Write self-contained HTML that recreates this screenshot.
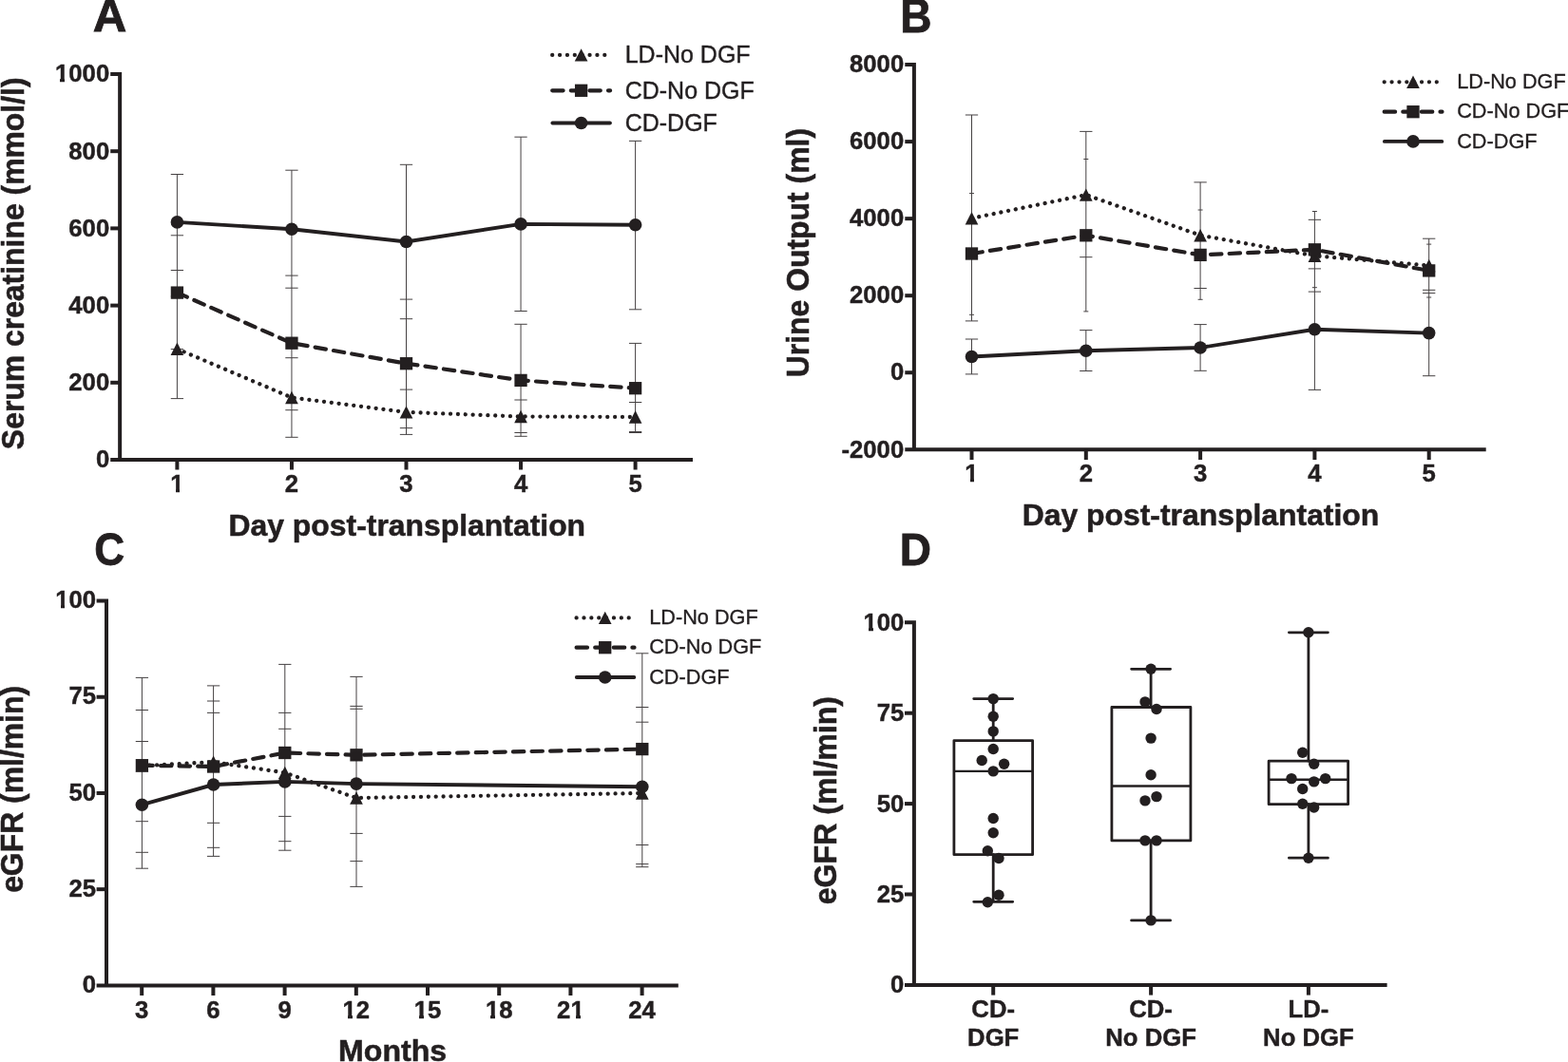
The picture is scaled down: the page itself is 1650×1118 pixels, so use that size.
<!DOCTYPE html>
<html lang="en">
<head>
<meta charset="utf-8">
<title>Figure: post-transplantation renal function</title>
<style>
html,body{margin:0;padding:0;background:#fff;}
body{width:1650px;height:1118px;overflow:hidden;}
svg{display:block;}
svg text{font-family:"Liberation Sans",sans-serif;fill:#231f20;}
</style>
</head>
<body>
<svg width="1650" height="1118" viewBox="0 0 1650 1118">
<rect x="0" y="0" width="1650" height="1118" fill="#ffffff"/>
<g id="panel-a">
<path d="M116.20 78.00 H126.15 V484.00" fill="none" stroke="#231f20" stroke-width="4.0" stroke-linejoin="miter"/>
<line x1="116.20" y1="484.00" x2="729.00" y2="484.00" stroke="#231f20" stroke-width="4.0" />
<line x1="116.20" y1="159.20" x2="126.15" y2="159.20" stroke="#231f20" stroke-width="4.0" />
<line x1="116.20" y1="240.40" x2="126.15" y2="240.40" stroke="#231f20" stroke-width="4.0" />
<line x1="116.20" y1="321.60" x2="126.15" y2="321.60" stroke="#231f20" stroke-width="4.0" />
<line x1="116.20" y1="402.80" x2="126.15" y2="402.80" stroke="#231f20" stroke-width="4.0" />
<line x1="186.40" y1="484.00" x2="186.40" y2="494.50" stroke="#231f20" stroke-width="4.0" />
<line x1="306.95" y1="484.00" x2="306.95" y2="494.50" stroke="#231f20" stroke-width="4.0" />
<line x1="427.50" y1="484.00" x2="427.50" y2="494.50" stroke="#231f20" stroke-width="4.0" />
<line x1="548.05" y1="484.00" x2="548.05" y2="494.50" stroke="#231f20" stroke-width="4.0" />
<line x1="668.60" y1="484.00" x2="668.60" y2="494.50" stroke="#231f20" stroke-width="4.0" />
<text x="115.20" y="86.40" font-size="25.7" font-weight="bold" text-anchor="end" stroke="#231f20" stroke-width="0.44" >1000</text>
<text x="115.20" y="167.60" font-size="25.7" font-weight="bold" text-anchor="end" stroke="#231f20" stroke-width="0.44" >800</text>
<text x="115.20" y="248.80" font-size="25.7" font-weight="bold" text-anchor="end" stroke="#231f20" stroke-width="0.44" >600</text>
<text x="115.20" y="330.00" font-size="25.7" font-weight="bold" text-anchor="end" stroke="#231f20" stroke-width="0.44" >400</text>
<text x="115.20" y="411.20" font-size="25.7" font-weight="bold" text-anchor="end" stroke="#231f20" stroke-width="0.44" >200</text>
<text x="115.20" y="492.40" font-size="25.7" font-weight="bold" text-anchor="end" stroke="#231f20" stroke-width="0.44" >0</text>
<text x="186.40" y="517.80" font-size="25.7" font-weight="bold" text-anchor="middle" stroke="#231f20" stroke-width="0.44" >1</text>
<text x="306.95" y="517.80" font-size="25.7" font-weight="bold" text-anchor="middle" stroke="#231f20" stroke-width="0.44" >2</text>
<text x="427.50" y="517.80" font-size="25.7" font-weight="bold" text-anchor="middle" stroke="#231f20" stroke-width="0.44" >3</text>
<text x="548.05" y="517.80" font-size="25.7" font-weight="bold" text-anchor="middle" stroke="#231f20" stroke-width="0.44" >4</text>
<text x="668.60" y="517.80" font-size="25.7" font-weight="bold" text-anchor="middle" stroke="#231f20" stroke-width="0.44" >5</text>
<text x="428.30" y="563.60" font-size="31.9" font-weight="bold" text-anchor="middle" stroke="#231f20" stroke-width="0.54" >Day post-transplantation</text>
<text x="0.00" y="0.00" font-size="31.9" font-weight="bold" text-anchor="middle" transform="translate(24.50 277.30) rotate(-90) scale(1 1.056)" stroke="#231f20" stroke-width="0.54" >Serum creatinine (mmol/l)</text>
<text transform="translate(115.50 33.20) scale(1.07 1.05)" x="0" y="0" font-size="46.0" font-weight="bold" text-anchor="middle" stroke="#231f20" stroke-width="0.78">A</text>
<path d="M186.40 183.50 V419.60 M179.75 183.50 h13.3 M179.75 284.50 h13.3 M179.75 247.80 h13.3 M179.75 367.60 h13.3 M179.75 312.00 h13.3 M179.75 419.60 h13.3" fill="none" stroke="#454142" stroke-width="1"/>
<path d="M306.95 179.20 V460.30 M300.30 179.20 h13.3 M300.30 303.20 h13.3 M300.30 290.10 h13.3 M300.30 431.70 h13.3 M300.30 376.70 h13.3 M300.30 460.30 h13.3" fill="none" stroke="#454142" stroke-width="1"/>
<path d="M427.50 173.30 V457.40 M420.85 173.30 h13.3 M420.85 335.70 h13.3 M420.85 315.10 h13.3 M420.85 450.60 h13.3 M420.85 410.10 h13.3 M420.85 457.40 h13.3" fill="none" stroke="#454142" stroke-width="1"/>
<path d="M548.05 144.20 V327.50 M548.05 341.30 V459.30 M541.40 144.20 h13.3 M541.40 327.50 h13.3 M541.40 341.30 h13.3 M541.40 459.30 h13.3 M541.40 421.00 h13.3 M541.40 455.50 h13.3" fill="none" stroke="#454142" stroke-width="1"/>
<path d="M668.60 148.40 V325.80 M668.60 361.40 V455.50 M661.95 148.40 h13.3 M661.95 325.80 h13.3 M661.95 361.40 h13.3 M661.95 455.50 h13.3 M661.95 423.50 h13.3 M661.95 454.50 h13.3" fill="none" stroke="#454142" stroke-width="1"/>
<path d="M186.40 233.90 L306.95 241.20 L427.50 254.50 L548.05 235.90 L668.60 236.80" fill="none" stroke="#231f20" stroke-width="3.9" stroke-linejoin="round" />
<path d="M186.40 308.10 L306.95 361.20 L427.50 382.70 L548.05 400.40 L668.60 408.70" fill="none" stroke="#231f20" stroke-width="4.2" stroke-linejoin="round" stroke-dasharray="11.4 8.2" stroke-linecap="round"/>
<path d="M186.40 367.30 L306.95 418.50 L427.50 433.90 L548.05 438.50 L668.60 439.00" fill="none" stroke="#231f20" stroke-width="4.3" stroke-linejoin="round" stroke-dasharray="0.01 7.86" stroke-linecap="round"/>
<circle cx="186.40" cy="233.90" r="6.8" fill="#231f20"/>
<circle cx="306.95" cy="241.20" r="6.8" fill="#231f20"/>
<circle cx="427.50" cy="254.50" r="6.8" fill="#231f20"/>
<circle cx="548.05" cy="235.90" r="6.8" fill="#231f20"/>
<circle cx="668.60" cy="236.80" r="6.8" fill="#231f20"/>
<rect x="179.75" y="301.45" width="13.3" height="13.3" fill="#231f20"/>
<rect x="300.30" y="354.55" width="13.3" height="13.3" fill="#231f20"/>
<rect x="420.85" y="376.05" width="13.3" height="13.3" fill="#231f20"/>
<rect x="541.40" y="393.75" width="13.3" height="13.3" fill="#231f20"/>
<rect x="661.95" y="402.05" width="13.3" height="13.3" fill="#231f20"/>
<path d="M186.40 360.60 L193.25 374.00 H179.55 Z" fill="#231f20"/>
<path d="M306.95 411.80 L313.80 425.20 H300.10 Z" fill="#231f20"/>
<path d="M427.50 427.20 L434.35 440.60 H420.65 Z" fill="#231f20"/>
<path d="M548.05 431.80 L554.90 445.20 H541.20 Z" fill="#231f20"/>
<path d="M668.60 432.30 L675.45 445.70 H661.75 Z" fill="#231f20"/>
<path d="M581.20 57.90 L643.80 57.90" fill="none" stroke="#231f20" stroke-width="4.3" stroke-linejoin="round" stroke-dasharray="0.01 7.86" stroke-linecap="round"/>
<path d="M611.60 51.20 L618.45 64.60 H604.75 Z" fill="#231f20"/>
<text x="657.70" y="66.25" font-size="25.0" font-weight="normal" text-anchor="start" stroke="#231f20" stroke-width="0.40" >LD-No DGF</text>
<path d="M581.20 95.30 L642.10 95.30" fill="none" stroke="#231f20" stroke-width="4.2" stroke-linejoin="round" stroke-dasharray="11.4 8.2" stroke-linecap="round"/>
<rect x="604.95" y="88.65" width="13.3" height="13.3" fill="#231f20"/>
<text x="657.70" y="103.65" font-size="25.0" font-weight="normal" text-anchor="start" stroke="#231f20" stroke-width="0.40" >CD-No DGF</text>
<path d="M581.40 129.50 L641.90 129.50" fill="none" stroke="#231f20" stroke-width="3.9" stroke-linejoin="round" stroke-linecap="round"/>
<circle cx="611.60" cy="129.50" r="6.8" fill="#231f20"/>
<text x="657.70" y="137.85" font-size="25.0" font-weight="normal" text-anchor="start" stroke="#231f20" stroke-width="0.40" >CD-DGF</text>
</g>
<g id="panel-b">
<path d="M952.30 68.05 H961.90 V473.30" fill="none" stroke="#231f20" stroke-width="4.0" stroke-linejoin="miter"/>
<line x1="952.30" y1="473.30" x2="1563.70" y2="473.30" stroke="#231f20" stroke-width="4.0" />
<line x1="952.30" y1="149.10" x2="961.90" y2="149.10" stroke="#231f20" stroke-width="4.0" />
<line x1="952.30" y1="230.15" x2="961.90" y2="230.15" stroke="#231f20" stroke-width="4.0" />
<line x1="952.30" y1="311.20" x2="961.90" y2="311.20" stroke="#231f20" stroke-width="4.0" />
<line x1="952.30" y1="392.25" x2="961.90" y2="392.25" stroke="#231f20" stroke-width="4.0" />
<line x1="1022.50" y1="473.30" x2="1022.50" y2="484.00" stroke="#231f20" stroke-width="4.0" />
<line x1="1142.80" y1="473.30" x2="1142.80" y2="484.00" stroke="#231f20" stroke-width="4.0" />
<line x1="1263.10" y1="473.30" x2="1263.10" y2="484.00" stroke="#231f20" stroke-width="4.0" />
<line x1="1383.40" y1="473.30" x2="1383.40" y2="484.00" stroke="#231f20" stroke-width="4.0" />
<line x1="1503.70" y1="473.30" x2="1503.70" y2="484.00" stroke="#231f20" stroke-width="4.0" />
<text x="951.20" y="76.25" font-size="25.7" font-weight="bold" text-anchor="end" stroke="#231f20" stroke-width="0.44" >8000</text>
<text x="951.20" y="157.30" font-size="25.7" font-weight="bold" text-anchor="end" stroke="#231f20" stroke-width="0.44" >6000</text>
<text x="951.20" y="238.35" font-size="25.7" font-weight="bold" text-anchor="end" stroke="#231f20" stroke-width="0.44" >4000</text>
<text x="951.20" y="319.40" font-size="25.7" font-weight="bold" text-anchor="end" stroke="#231f20" stroke-width="0.44" >2000</text>
<text x="951.20" y="400.45" font-size="25.7" font-weight="bold" text-anchor="end" stroke="#231f20" stroke-width="0.44" >0</text>
<text x="951.20" y="481.50" font-size="25.7" font-weight="bold" text-anchor="end" stroke="#231f20" stroke-width="0.44" >-2000</text>
<text x="1022.50" y="507.30" font-size="25.7" font-weight="bold" text-anchor="middle" stroke="#231f20" stroke-width="0.44" >1</text>
<text x="1142.80" y="507.30" font-size="25.7" font-weight="bold" text-anchor="middle" stroke="#231f20" stroke-width="0.44" >2</text>
<text x="1263.10" y="507.30" font-size="25.7" font-weight="bold" text-anchor="middle" stroke="#231f20" stroke-width="0.44" >3</text>
<text x="1383.40" y="507.30" font-size="25.7" font-weight="bold" text-anchor="middle" stroke="#231f20" stroke-width="0.44" >4</text>
<text x="1503.70" y="507.30" font-size="25.7" font-weight="bold" text-anchor="middle" stroke="#231f20" stroke-width="0.44" >5</text>
<text x="1263.50" y="552.60" font-size="31.9" font-weight="bold" text-anchor="middle" stroke="#231f20" stroke-width="0.54" >Day post-transplantation</text>
<text x="0.00" y="0.00" font-size="31.9" font-weight="bold" text-anchor="middle" transform="translate(851.00 266.10) rotate(-90) scale(1 1.056)" stroke="#231f20" stroke-width="0.54" >Urine Output (ml)</text>
<text transform="translate(963.90 33.90) scale(1.0 1.08)" x="0" y="0" font-size="46.0" font-weight="bold" text-anchor="middle" stroke="#231f20" stroke-width="0.78">B</text>
<path d="M1022.50 121.00 V337.90 M1022.50 357.00 V393.90 M1015.85 121.00 h13.3 M1015.85 337.90 h13.3 M1020.00 203.60 h5.0 M1020.00 331.30 h5.0 M1015.85 357.00 h13.3 M1015.85 393.90 h13.3" fill="none" stroke="#454142" stroke-width="1"/>
<path d="M1142.80 138.40 V327.90 M1142.80 347.60 V390.50 M1136.15 138.40 h13.3 M1136.15 270.70 h13.3 M1140.30 167.50 h5.0 M1140.30 327.90 h5.0 M1136.15 347.60 h13.3 M1136.15 390.50 h13.3" fill="none" stroke="#454142" stroke-width="1"/>
<path d="M1263.10 191.90 V315.30 M1263.10 341.60 V390.30 M1256.45 191.90 h13.3 M1256.45 303.50 h13.3 M1260.60 221.00 h5.0 M1260.60 315.30 h5.0 M1256.45 341.60 h13.3 M1256.45 390.30 h13.3" fill="none" stroke="#454142" stroke-width="1"/>
<path d="M1383.40 222.50 V410.40 M1376.75 231.30 h13.3 M1376.75 307.10 h13.3 M1380.90 222.50 h5.0 M1380.90 302.70 h5.0 M1376.75 282.90 h13.3 M1376.75 410.40 h13.3" fill="none" stroke="#454142" stroke-width="1"/>
<path d="M1503.70 251.20 V395.70 M1497.05 251.20 h13.3 M1497.05 308.60 h13.3 M1501.20 257.10 h5.0 M1501.20 313.00 h5.0 M1497.05 305.30 h13.3 M1497.05 395.70 h13.3" fill="none" stroke="#454142" stroke-width="1"/>
<path d="M1022.50 229.80 L1142.80 205.10 L1263.10 247.70 L1383.40 269.30 L1503.70 279.50" fill="none" stroke="#231f20" stroke-width="4.3" stroke-linejoin="round" stroke-dasharray="0.01 7.86" stroke-linecap="round"/>
<path d="M1022.50 267.00 L1142.80 247.80 L1263.10 268.40 L1383.40 262.80 L1503.70 284.90" fill="none" stroke="#231f20" stroke-width="4.2" stroke-linejoin="round" stroke-dasharray="11.4 8.2" stroke-linecap="round"/>
<path d="M1022.50 375.50 L1142.80 369.20 L1263.10 366.00 L1383.40 346.80 L1503.70 350.60" fill="none" stroke="#231f20" stroke-width="3.9" stroke-linejoin="round" />
<path d="M1022.50 223.10 L1029.35 236.50 H1015.65 Z" fill="#231f20"/>
<path d="M1142.80 198.40 L1149.65 211.80 H1135.95 Z" fill="#231f20"/>
<path d="M1263.10 241.00 L1269.95 254.40 H1256.25 Z" fill="#231f20"/>
<path d="M1383.40 262.60 L1390.25 276.00 H1376.55 Z" fill="#231f20"/>
<path d="M1503.70 272.80 L1510.55 286.20 H1496.85 Z" fill="#231f20"/>
<rect x="1015.85" y="260.35" width="13.3" height="13.3" fill="#231f20"/>
<rect x="1136.15" y="241.15" width="13.3" height="13.3" fill="#231f20"/>
<rect x="1256.45" y="261.75" width="13.3" height="13.3" fill="#231f20"/>
<rect x="1376.75" y="256.15" width="13.3" height="13.3" fill="#231f20"/>
<rect x="1497.05" y="278.25" width="13.3" height="13.3" fill="#231f20"/>
<circle cx="1022.50" cy="375.50" r="6.8" fill="#231f20"/>
<circle cx="1142.80" cy="369.20" r="6.8" fill="#231f20"/>
<circle cx="1263.10" cy="366.00" r="6.8" fill="#231f20"/>
<circle cx="1383.40" cy="346.80" r="6.8" fill="#231f20"/>
<circle cx="1503.70" cy="350.60" r="6.8" fill="#231f20"/>
<path d="M1456.70 86.30 L1519.20 86.30" fill="none" stroke="#231f20" stroke-width="4.3" stroke-linejoin="round" stroke-dasharray="0.01 7.86" stroke-linecap="round"/>
<path d="M1487.00 79.60 L1493.85 93.00 H1480.15 Z" fill="#231f20"/>
<text x="1533.20" y="92.98" font-size="21.7" font-weight="normal" text-anchor="start" stroke="#231f20" stroke-width="0.35" >LD-No DGF</text>
<path d="M1456.70 117.70 L1517.50 117.70" fill="none" stroke="#231f20" stroke-width="4.2" stroke-linejoin="round" stroke-dasharray="11.4 8.2" stroke-linecap="round"/>
<rect x="1480.35" y="111.05" width="13.3" height="13.3" fill="#231f20"/>
<text x="1533.20" y="124.38" font-size="21.7" font-weight="normal" text-anchor="start" stroke="#231f20" stroke-width="0.35" >CD-No DGF</text>
<path d="M1456.90 148.90 L1517.30 148.90" fill="none" stroke="#231f20" stroke-width="3.9" stroke-linejoin="round" stroke-linecap="round"/>
<circle cx="1487.00" cy="148.90" r="6.8" fill="#231f20"/>
<text x="1533.20" y="155.58" font-size="21.7" font-weight="normal" text-anchor="start" stroke="#231f20" stroke-width="0.35" >CD-DGF</text>
</g>
<g id="panel-c">
<path d="M101.60 632.52 H112.00 V1037.40" fill="none" stroke="#231f20" stroke-width="4.0" stroke-linejoin="miter"/>
<line x1="101.60" y1="1037.40" x2="713.80" y2="1037.40" stroke="#231f20" stroke-width="4.0" />
<line x1="101.60" y1="733.74" x2="112.00" y2="733.74" stroke="#231f20" stroke-width="4.0" />
<line x1="101.60" y1="834.96" x2="112.00" y2="834.96" stroke="#231f20" stroke-width="4.0" />
<line x1="101.60" y1="936.18" x2="112.00" y2="936.18" stroke="#231f20" stroke-width="4.0" />
<line x1="149.20" y1="1037.40" x2="149.20" y2="1048.00" stroke="#231f20" stroke-width="4.0" />
<line x1="224.40" y1="1037.40" x2="224.40" y2="1048.00" stroke="#231f20" stroke-width="4.0" />
<line x1="299.60" y1="1037.40" x2="299.60" y2="1048.00" stroke="#231f20" stroke-width="4.0" />
<line x1="374.80" y1="1037.40" x2="374.80" y2="1048.00" stroke="#231f20" stroke-width="4.0" />
<line x1="450.00" y1="1037.40" x2="450.00" y2="1048.00" stroke="#231f20" stroke-width="4.0" />
<line x1="525.20" y1="1037.40" x2="525.20" y2="1048.00" stroke="#231f20" stroke-width="4.0" />
<line x1="600.40" y1="1037.40" x2="600.40" y2="1048.00" stroke="#231f20" stroke-width="4.0" />
<line x1="675.60" y1="1037.40" x2="675.60" y2="1048.00" stroke="#231f20" stroke-width="4.0" />
<text x="101.00" y="640.22" font-size="25.7" font-weight="bold" text-anchor="end" stroke="#231f20" stroke-width="0.44" >100</text>
<text x="101.00" y="741.44" font-size="25.7" font-weight="bold" text-anchor="end" stroke="#231f20" stroke-width="0.44" >75</text>
<text x="101.00" y="842.66" font-size="25.7" font-weight="bold" text-anchor="end" stroke="#231f20" stroke-width="0.44" >50</text>
<text x="101.00" y="943.88" font-size="25.7" font-weight="bold" text-anchor="end" stroke="#231f20" stroke-width="0.44" >25</text>
<text x="101.00" y="1045.10" font-size="25.7" font-weight="bold" text-anchor="end" stroke="#231f20" stroke-width="0.44" >0</text>
<text x="149.20" y="1071.60" font-size="25.7" font-weight="bold" text-anchor="middle" stroke="#231f20" stroke-width="0.44" >3</text>
<text x="224.40" y="1071.60" font-size="25.7" font-weight="bold" text-anchor="middle" stroke="#231f20" stroke-width="0.44" >6</text>
<text x="299.60" y="1071.60" font-size="25.7" font-weight="bold" text-anchor="middle" stroke="#231f20" stroke-width="0.44" >9</text>
<text x="374.80" y="1071.60" font-size="25.7" font-weight="bold" text-anchor="middle" stroke="#231f20" stroke-width="0.44" >12</text>
<text x="450.00" y="1071.60" font-size="25.7" font-weight="bold" text-anchor="middle" stroke="#231f20" stroke-width="0.44" >15</text>
<text x="525.20" y="1071.60" font-size="25.7" font-weight="bold" text-anchor="middle" stroke="#231f20" stroke-width="0.44" >18</text>
<text x="600.40" y="1071.60" font-size="25.7" font-weight="bold" text-anchor="middle" stroke="#231f20" stroke-width="0.44" >21</text>
<text x="675.60" y="1071.60" font-size="25.7" font-weight="bold" text-anchor="middle" stroke="#231f20" stroke-width="0.44" >24</text>
<text x="413.10" y="1117.00" font-size="32.1" font-weight="bold" text-anchor="middle" stroke="#231f20" stroke-width="0.55" >Months</text>
<text x="0.00" y="0.00" font-size="31.9" font-weight="bold" text-anchor="middle" transform="translate(24.40 830.90) rotate(-90) scale(1 1.056)" stroke="#231f20" stroke-width="0.54" >eGFR (ml/min)</text>
<text transform="translate(115.30 595.00) scale(0.96 1.03)" x="0" y="0" font-size="46.0" font-weight="bold" text-anchor="middle" stroke="#231f20" stroke-width="0.78">C</text>
<path d="M149.40 713.40 V914.20 M142.75 747.50 h13.3 M142.75 864.70 h13.3 M142.75 713.40 h13.3 M142.75 897.30 h13.3 M142.75 780.50 h13.3 M142.75 914.20 h13.3" fill="none" stroke="#454142" stroke-width="1"/>
<path d="M224.60 721.90 V901.40 M217.95 738.00 h13.3 M217.95 866.30 h13.3 M217.95 721.90 h13.3 M217.95 892.30 h13.3 M217.95 750.40 h13.3 M217.95 901.40 h13.3" fill="none" stroke="#454142" stroke-width="1"/>
<path d="M299.80 699.40 V895.20 M293.15 767.30 h13.3 M293.15 859.40 h13.3 M293.15 699.40 h13.3 M293.15 885.70 h13.3 M293.15 750.40 h13.3 M293.15 895.20 h13.3" fill="none" stroke="#454142" stroke-width="1"/>
<path d="M375.00 712.40 V933.40 M368.35 746.30 h13.3 M368.35 933.40 h13.3 M368.35 712.40 h13.3 M368.35 877.40 h13.3 M368.35 743.40 h13.3 M368.35 906.60 h13.3" fill="none" stroke="#454142" stroke-width="1"/>
<path d="M675.80 687.80 V912.70 M669.15 760.20 h13.3 M669.15 909.60 h13.3 M669.15 687.80 h13.3 M669.15 889.50 h13.3 M669.15 744.50 h13.3 M669.15 912.70 h13.3" fill="none" stroke="#454142" stroke-width="1"/>
<path d="M149.40 806.10 L224.60 802.20 L299.80 813.40 L375.00 840.00 L675.80 835.00" fill="none" stroke="#231f20" stroke-width="4.3" stroke-linejoin="round" stroke-dasharray="0.01 7.86" stroke-linecap="round"/>
<path d="M149.40 805.70 L224.60 807.00 L299.80 792.50 L375.00 794.80 L675.80 788.60" fill="none" stroke="#231f20" stroke-width="4.2" stroke-linejoin="round" stroke-dasharray="11.4 8.2" stroke-linecap="round"/>
<path d="M149.40 847.20 L224.60 826.00 L299.80 822.90 L375.00 825.10 L675.80 828.20" fill="none" stroke="#231f20" stroke-width="3.9" stroke-linejoin="round" />
<path d="M149.40 799.40 L156.25 812.80 H142.55 Z" fill="#231f20"/>
<path d="M224.60 795.50 L231.45 808.90 H217.75 Z" fill="#231f20"/>
<path d="M299.80 806.70 L306.65 820.10 H292.95 Z" fill="#231f20"/>
<path d="M375.00 833.30 L381.85 846.70 H368.15 Z" fill="#231f20"/>
<path d="M675.80 828.30 L682.65 841.70 H668.95 Z" fill="#231f20"/>
<rect x="142.75" y="799.05" width="13.3" height="13.3" fill="#231f20"/>
<rect x="217.95" y="800.35" width="13.3" height="13.3" fill="#231f20"/>
<rect x="293.15" y="785.85" width="13.3" height="13.3" fill="#231f20"/>
<rect x="368.35" y="788.15" width="13.3" height="13.3" fill="#231f20"/>
<rect x="669.15" y="781.95" width="13.3" height="13.3" fill="#231f20"/>
<circle cx="149.40" cy="847.20" r="6.8" fill="#231f20"/>
<circle cx="224.60" cy="826.00" r="6.8" fill="#231f20"/>
<circle cx="299.80" cy="822.90" r="6.8" fill="#231f20"/>
<circle cx="375.00" cy="825.10" r="6.8" fill="#231f20"/>
<circle cx="675.80" cy="828.20" r="6.8" fill="#231f20"/>
<path d="M606.60 650.40 L669.20 650.40" fill="none" stroke="#231f20" stroke-width="4.3" stroke-linejoin="round" stroke-dasharray="0.01 7.86" stroke-linecap="round"/>
<path d="M636.70 643.70 L643.55 657.10 H629.85 Z" fill="#231f20"/>
<text x="683.20" y="656.98" font-size="21.7" font-weight="normal" text-anchor="start" stroke="#231f20" stroke-width="0.35" >LD-No DGF</text>
<path d="M606.60 681.70 L667.50 681.70" fill="none" stroke="#231f20" stroke-width="4.2" stroke-linejoin="round" stroke-dasharray="11.4 8.2" stroke-linecap="round"/>
<rect x="630.05" y="675.05" width="13.3" height="13.3" fill="#231f20"/>
<text x="683.20" y="688.28" font-size="21.7" font-weight="normal" text-anchor="start" stroke="#231f20" stroke-width="0.35" >CD-No DGF</text>
<path d="M606.80 713.00 L667.30 713.00" fill="none" stroke="#231f20" stroke-width="3.9" stroke-linejoin="round" stroke-linecap="round"/>
<circle cx="636.70" cy="713.00" r="6.8" fill="#231f20"/>
<text x="683.20" y="719.58" font-size="21.7" font-weight="normal" text-anchor="start" stroke="#231f20" stroke-width="0.35" >CD-DGF</text>
</g>
<g id="panel-d">
<path d="M952.00 655.30 H961.90 V1036.90" fill="none" stroke="#231f20" stroke-width="4.0" stroke-linejoin="miter"/>
<line x1="952.00" y1="1036.90" x2="1459.60" y2="1036.90" stroke="#231f20" stroke-width="4.0" />
<line x1="952.00" y1="750.70" x2="961.90" y2="750.70" stroke="#231f20" stroke-width="4.0" />
<line x1="952.00" y1="846.10" x2="961.90" y2="846.10" stroke="#231f20" stroke-width="4.0" />
<line x1="952.00" y1="941.50" x2="961.90" y2="941.50" stroke="#231f20" stroke-width="4.0" />
<line x1="1045.20" y1="1036.90" x2="1045.20" y2="1047.60" stroke="#231f20" stroke-width="4.0" />
<line x1="1211.10" y1="1036.90" x2="1211.10" y2="1047.60" stroke="#231f20" stroke-width="4.0" />
<line x1="1376.90" y1="1036.90" x2="1376.90" y2="1047.60" stroke="#231f20" stroke-width="4.0" />
<text x="951.40" y="663.70" font-size="25.7" font-weight="bold" text-anchor="end" stroke="#231f20" stroke-width="0.44" >100</text>
<text x="951.40" y="759.10" font-size="25.7" font-weight="bold" text-anchor="end" stroke="#231f20" stroke-width="0.44" >75</text>
<text x="951.40" y="854.50" font-size="25.7" font-weight="bold" text-anchor="end" stroke="#231f20" stroke-width="0.44" >50</text>
<text x="951.40" y="949.90" font-size="25.7" font-weight="bold" text-anchor="end" stroke="#231f20" stroke-width="0.44" >25</text>
<text x="951.40" y="1045.30" font-size="25.7" font-weight="bold" text-anchor="end" stroke="#231f20" stroke-width="0.44" >0</text>
<text x="1045.20" y="1071.20" font-size="25.7" font-weight="bold" text-anchor="middle" stroke="#231f20" stroke-width="0.44" >CD-</text>
<text x="1045.20" y="1101.20" font-size="25.7" font-weight="bold" text-anchor="middle" stroke="#231f20" stroke-width="0.44" >DGF</text>
<text x="1211.10" y="1071.20" font-size="25.7" font-weight="bold" text-anchor="middle" stroke="#231f20" stroke-width="0.44" >CD-</text>
<text x="1211.10" y="1101.20" font-size="25.7" font-weight="bold" text-anchor="middle" stroke="#231f20" stroke-width="0.44" >No DGF</text>
<text x="1376.90" y="1071.20" font-size="25.7" font-weight="bold" text-anchor="middle" stroke="#231f20" stroke-width="0.44" >LD-</text>
<text x="1376.90" y="1101.20" font-size="25.7" font-weight="bold" text-anchor="middle" stroke="#231f20" stroke-width="0.44" >No DGF</text>
<text x="0.00" y="0.00" font-size="32.1" font-weight="bold" text-anchor="middle" transform="translate(879.60 842.60) rotate(-90) scale(1 1.056)" stroke="#231f20" stroke-width="0.55" >eGFR (ml/min)</text>
<text transform="translate(963.40 594.90) scale(1.0 1.03)" x="0" y="0" font-size="46.0" font-weight="bold" text-anchor="middle" stroke="#231f20" stroke-width="0.78">D</text>
<path d="M1045.20 735.60 V779.60 M1045.20 899.70 V949.30 M1024.70 735.60 h41 M1024.70 949.30 h41" fill="none" stroke="#231f20" stroke-width="2.8" stroke-linecap="round"/>
<path d="M1003.90 811.90 H1086.60" fill="none" stroke="#231f20" stroke-width="2.4"/>
<rect x="1003.90" y="779.60" width="82.70" height="120.10" fill="none" stroke="#231f20" stroke-width="2.8" stroke-linejoin="round"/>
<path d="M1211.10 704.30 V744.50 M1211.10 884.90 V968.90 M1190.60 704.30 h41 M1190.60 968.90 h41" fill="none" stroke="#231f20" stroke-width="2.8" stroke-linecap="round"/>
<path d="M1169.90 827.50 H1252.90" fill="none" stroke="#231f20" stroke-width="2.4"/>
<rect x="1169.90" y="744.50" width="83.00" height="140.40" fill="none" stroke="#231f20" stroke-width="2.8" stroke-linejoin="round"/>
<path d="M1376.90 665.80 V801.20 M1376.90 846.70 V903.20 M1356.40 665.80 h41 M1356.40 903.20 h41" fill="none" stroke="#231f20" stroke-width="2.8" stroke-linecap="round"/>
<path d="M1335.10 820.80 H1418.60" fill="none" stroke="#231f20" stroke-width="2.4"/>
<rect x="1335.10" y="801.20" width="83.50" height="45.50" fill="none" stroke="#231f20" stroke-width="2.8" stroke-linejoin="round"/>
<circle cx="1045.20" cy="735.60" r="5.7" fill="#231f20"/>
<circle cx="1045.20" cy="754.20" r="5.7" fill="#231f20"/>
<circle cx="1045.20" cy="769.90" r="5.7" fill="#231f20"/>
<circle cx="1045.20" cy="788.50" r="5.7" fill="#231f20"/>
<circle cx="1033.20" cy="800.50" r="5.7" fill="#231f20"/>
<circle cx="1056.60" cy="804.30" r="5.7" fill="#231f20"/>
<circle cx="1045.20" cy="811.90" r="5.7" fill="#231f20"/>
<circle cx="1045.20" cy="861.50" r="5.7" fill="#231f20"/>
<circle cx="1045.20" cy="876.80" r="5.7" fill="#231f20"/>
<circle cx="1039.30" cy="895.80" r="5.7" fill="#231f20"/>
<circle cx="1051.00" cy="903.50" r="5.7" fill="#231f20"/>
<circle cx="1051.00" cy="942.20" r="5.7" fill="#231f20"/>
<circle cx="1039.30" cy="949.80" r="5.7" fill="#231f20"/>
<circle cx="1211.10" cy="704.30" r="5.7" fill="#231f20"/>
<circle cx="1205.00" cy="738.90" r="5.7" fill="#231f20"/>
<circle cx="1217.00" cy="746.50" r="5.7" fill="#231f20"/>
<circle cx="1211.10" cy="777.10" r="5.7" fill="#231f20"/>
<circle cx="1211.10" cy="815.80" r="5.7" fill="#231f20"/>
<circle cx="1217.00" cy="838.60" r="5.7" fill="#231f20"/>
<circle cx="1205.00" cy="842.90" r="5.7" fill="#231f20"/>
<circle cx="1205.00" cy="884.90" r="5.7" fill="#231f20"/>
<circle cx="1217.00" cy="884.90" r="5.7" fill="#231f20"/>
<circle cx="1211.10" cy="968.90" r="5.7" fill="#231f20"/>
<circle cx="1376.90" cy="665.80" r="5.7" fill="#231f20"/>
<circle cx="1370.70" cy="792.30" r="5.7" fill="#231f20"/>
<circle cx="1382.70" cy="804.30" r="5.7" fill="#231f20"/>
<circle cx="1359.00" cy="819.60" r="5.7" fill="#231f20"/>
<circle cx="1394.70" cy="819.60" r="5.7" fill="#231f20"/>
<circle cx="1382.70" cy="822.90" r="5.7" fill="#231f20"/>
<circle cx="1370.70" cy="830.50" r="5.7" fill="#231f20"/>
<circle cx="1370.70" cy="846.20" r="5.7" fill="#231f20"/>
<circle cx="1382.70" cy="850.00" r="5.7" fill="#231f20"/>
<circle cx="1376.90" cy="903.20" r="5.7" fill="#231f20"/>
</g>
<g id="digit-one-trim">
<rect x="59" y="83" width="4" height="4" fill="#ffffff"/>
<rect x="68" y="83" width="5" height="4" fill="#ffffff"/>
<rect x="180" y="515" width="5" height="4" fill="#ffffff"/>
<rect x="189" y="515" width="5" height="4" fill="#ffffff"/>
<rect x="1016" y="504" width="5" height="4" fill="#ffffff"/>
<rect x="1025" y="504" width="5" height="4" fill="#ffffff"/>
<rect x="59" y="637" width="5" height="4" fill="#ffffff"/>
<rect x="68" y="637" width="5" height="4" fill="#ffffff"/>
<rect x="361" y="1069" width="5" height="4" fill="#ffffff"/>
<rect x="371" y="1069" width="4" height="4" fill="#ffffff"/>
<rect x="436" y="1069" width="5" height="4" fill="#ffffff"/>
<rect x="446" y="1069" width="4" height="4" fill="#ffffff"/>
<rect x="512" y="1069" width="4" height="4" fill="#ffffff"/>
<rect x="521" y="1069" width="5" height="4" fill="#ffffff"/>
<rect x="601" y="1069" width="5" height="4" fill="#ffffff"/>
<rect x="611" y="1069" width="4" height="4" fill="#ffffff"/>
<rect x="909" y="661" width="5" height="4" fill="#ffffff"/>
<rect x="919" y="661" width="4" height="4" fill="#ffffff"/>
</g>
</svg>
</body>
</html>
